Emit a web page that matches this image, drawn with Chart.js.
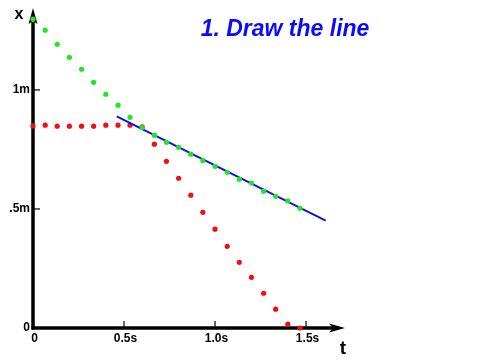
<!DOCTYPE html>
<html>
<head>
<meta charset="utf-8">
<script src="https://cdn.jsdelivr.net/npm/chart.js@4.4.1/dist/chart.umd.min.js"></script>
<style>
  html, body { margin: 0; padding: 0; background: #fff; }
  #wrap { width: 480px; height: 360px; position: relative; }
</style>
</head>
<body>
<div id="wrap"><canvas id="motion"></canvas></div>
<script>
// tid i sekunder, ett prov var 1/15 s
const times = [0, 0.067, 0.133, 0.2, 0.267, 0.333, 0.4, 0.467, 0.533, 0.6, 0.667, 0.733,
               0.8, 0.867, 0.933, 1.0, 1.067, 1.133, 1.2, 1.267, 1.333, 1.4, 1.467];

// position (m) — grön: konstant hastighet, röd: stilla och sedan accelererar
const greenX = [1.298, 1.251, 1.192, 1.137, 1.087, 1.032, 0.982, 0.936, 0.885, 0.842, 0.810, 0.780,
                0.759, 0.730, 0.704, 0.679, 0.654, 0.625, 0.609, 0.574, 0.553, 0.534, 0.503];
const redX = [0.849, 0.852, 0.848, 0.848, 0.848, 0.848, 0.852, 0.852, 0.852, 0.845, 0.772, 0.700,
              0.629, 0.558, 0.486, 0.415, 0.343, 0.276, 0.213, 0.146, 0.079, 0.016, 0.0];

// den ritade linjen (start, slut)
const fitT = [0.46, 1.608];
const fitX = [0.889, 0.451];

// tickar
const xTicks = [0, 0.5, 1.0, 1.5];
const xTickLabels = ['0', '0.5s', '1.0s', '1.5s'];
const yTicks = [0, 0.5, 1.0];
const yTickLabels = ['0', '.5m', '1m'];

const titleText = '1. Draw the line';

const toPoints = (ts, xs) => ts.map((t, i) => ({ x: t, y: xs[i] }));

// Ritar axlar med pilar, tickar och etiketter via diagrammets skalor (under punkterna)
const axesPlugin = {
    id: 'axesPlugin',
    beforeDatasetsDraw(chart) {
        const { ctx, scales } = chart;
        const sx = scales.x, sy = scales.y;
        const x0 = sx.getPixelForValue(0);
        const y0 = sy.getPixelForValue(0);
        const xEnd = sx.getPixelForValue(sx.max);
        const yEnd = sy.getPixelForValue(sy.max);

        ctx.save();
        ctx.strokeStyle = '#000';
        ctx.fillStyle = '#000';
        ctx.lineWidth = 3.5;
        ctx.lineCap = 'butt';

        // y-axel
        ctx.beginPath();
        ctx.moveTo(x0, y0 + 1.5);
        ctx.lineTo(x0, yEnd + 8);
        ctx.stroke();
        // x-axel
        ctx.beginPath();
        ctx.moveTo(x0 - 1.5, y0);
        ctx.lineTo(xEnd - 8, y0);
        ctx.stroke();

        // pilar
        ctx.beginPath();
        ctx.moveTo(x0, yEnd - 6);
        ctx.lineTo(x0 - 4.5, yEnd + 10);
        ctx.lineTo(x0, yEnd + 7);
        ctx.lineTo(x0 + 4.5, yEnd + 10);
        ctx.closePath();
        ctx.fill();

        ctx.beginPath();
        ctx.moveTo(xEnd, y0);
        ctx.lineTo(xEnd - 16, y0 - 4.5);
        ctx.lineTo(xEnd - 12, y0);
        ctx.lineTo(xEnd - 16, y0 + 4.5);
        ctx.closePath();
        ctx.fill();

        // tickmarkeringar
        ctx.lineWidth = 1.2;
        xTicks.forEach(v => {
            if (v === 0) return;
            const px = sx.getPixelForValue(v);
            ctx.beginPath();
            ctx.moveTo(px, y0);
            ctx.lineTo(px, y0 - 7);
            ctx.stroke();
        });
        yTicks.forEach(v => {
            if (v === 0) return;
            const py = sy.getPixelForValue(v);
            ctx.beginPath();
            ctx.moveTo(x0, py);
            ctx.lineTo(x0 + 7, py);
            ctx.stroke();
        });

        // etiketter
        ctx.font = 'bold 12px "Liberation Sans", Arial, sans-serif';
        ctx.textBaseline = 'middle';
        ctx.textAlign = 'center';
        xTicks.forEach((v, i) => {
            ctx.fillText(xTickLabels[i], sx.getPixelForValue(v) + 1.5, y0 + 11);
        });
        ctx.textAlign = 'right';
        yTicks.forEach((v, i) => {
            ctx.fillText(yTickLabels[i], x0 - 3, sy.getPixelForValue(v));
        });

        // axelnamn
        ctx.textAlign = 'center';
        ctx.font = 'bold 16px "Liberation Sans", Arial, sans-serif';
        ctx.fillText('x', x0 - 14, yEnd + 1);
        ctx.font = 'bold 19px "Liberation Sans", Arial, sans-serif';
        ctx.fillText('t', xEnd - 2, y0 + 21);

        // rubrik
        ctx.fillStyle = '#0a0aff';
        ctx.font = 'italic bold 23px "Liberation Sans", Arial, sans-serif';
        ctx.fillText(titleText, 285, 30);
        ctx.restore();
    }
};

const ctx = document.getElementById('motion').getContext('2d');
new Chart(ctx, {
    type: 'scatter',
    data: {
        datasets: [
            {
                label: 'Grön',
                data: toPoints(times, greenX),
                backgroundColor: '#22e622',
                borderWidth: 0,
                pointRadius: 2.6,
                order: 1
            },
            {
                label: 'Linje',
                type: 'line',
                data: toPoints(fitT, fitX),
                borderColor: '#1010f0',
                borderWidth: 2,
                pointRadius: 0,
                fill: false,
                order: 2
            },
            {
                label: 'Röd',
                data: toPoints(times, redX),
                backgroundColor: '#f01010',
                borderWidth: 0,
                pointRadius: 2.6,
                order: 3
            }
        ]
    },
    options: {
        responsive: true,
        maintainAspectRatio: false,
        animation: false,
        clip: false,
        layout: { padding: { left: 33, right: 135, top: 14, bottom: 32 } },
        plugins: { legend: { display: false }, tooltip: { enabled: false } },
        scales: {
            x: { type: 'linear', display: false, min: 0, max: 1.714 },
            y: { type: 'linear', display: false, min: 0, max: 1.319 }
        }
    },
    plugins: [axesPlugin]
});
</script>
</body>
</html>
